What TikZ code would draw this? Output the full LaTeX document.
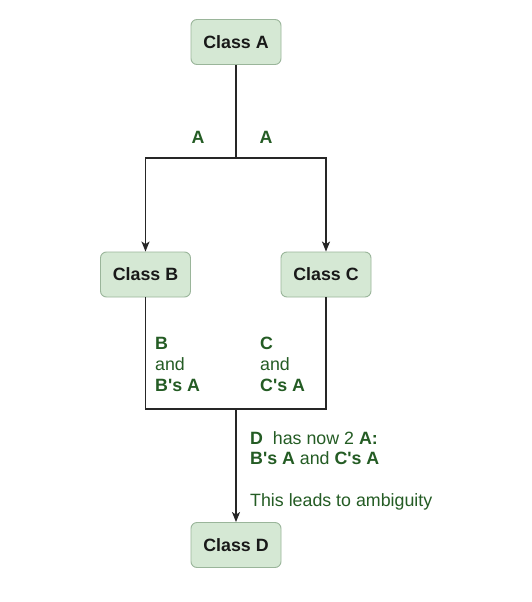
\documentclass[tikz,border=0pt]{standalone}
\usepackage{fontspec}
\setmainfont{Liberation Sans}
\usetikzlibrary{arrows.meta}
\definecolor{boxfill}{HTML}{D5E8D4}
\definecolor{boxline}{HTML}{9AB59A}
\definecolor{lbl}{RGB}{36,92,36}
\definecolor{boxtext}{RGB}{25,25,25}
\tikzset{
  classbox/.style={draw=boxline, fill=boxfill, rounded corners=6pt, line width=0.9pt,
    minimum width=90pt, minimum height=45pt, inner sep=0pt,
    font=\fontsize{17.8}{21.4}\selectfont\bfseries, text=boxtext},
  conn/.style={line width=1.2pt, draw=black!85},
  arr/.style={conn, -{Stealth[length=10pt,width=8pt,inset=2.5pt]}},
  lab/.style={anchor=base west, inner sep=0pt, text=lbl, font=\fontsize{17.8}{21.4}\selectfont},
  labc/.style={anchor=base, inner sep=0pt, text=lbl, font=\fontsize{17.8}{21.4}\selectfont\bfseries}
}
\begin{document}
\begin{tikzpicture}[x=1pt,y=-1pt]
\useasboundingbox[fill=white] (0,0) rectangle (532,602);
\node[classbox] (A) at (236,42) {Class A};
\node[classbox] (B) at (145.5,274.5) {Class B};
\node[classbox] (C) at (326,274.5) {Class C};
\node[classbox] (D) at (236,545) {Class D};
\coordinate (j1) at (236,158);
\coordinate (j2) at (236,409);
\draw[conn] (A.south) -- (j1);
\draw[arr] (j1) -| (B.north);
\draw[arr] (j1) -| (C.north);
\draw[conn] (B.south) -- (B.south |- j2) -- (C.south |- j2) -- (C.south);
\draw[arr] (j2) -- (D.north);
\node[labc] (la1) at (198,143) {A};
\node[labc] (la2) at (266,143) {A};
\node[lab] (b1) at (155,349) {\bfseries B};
\node[lab] (b2) at (155,370) {and};
\node[lab] (b3) at (155,391) {\bfseries B\textquotesingle s A};
\node[lab] (c1) at (260,349) {\bfseries C};
\node[lab] (c2) at (260,370) {and};
\node[lab] (c3) at (260,391) {\bfseries C\textquotesingle s A};
\node[lab] (d1) at (250,444) {\textbf{D}~~has now 2 \textbf{A:}};
\node[lab] (d2) at (250,464) {\textbf{B\textquotesingle s A} and \textbf{C\textquotesingle s A}};
\node[lab] (d3) at (250,506.5) {This leads to ambiguity};
\end{tikzpicture}
\end{document}
